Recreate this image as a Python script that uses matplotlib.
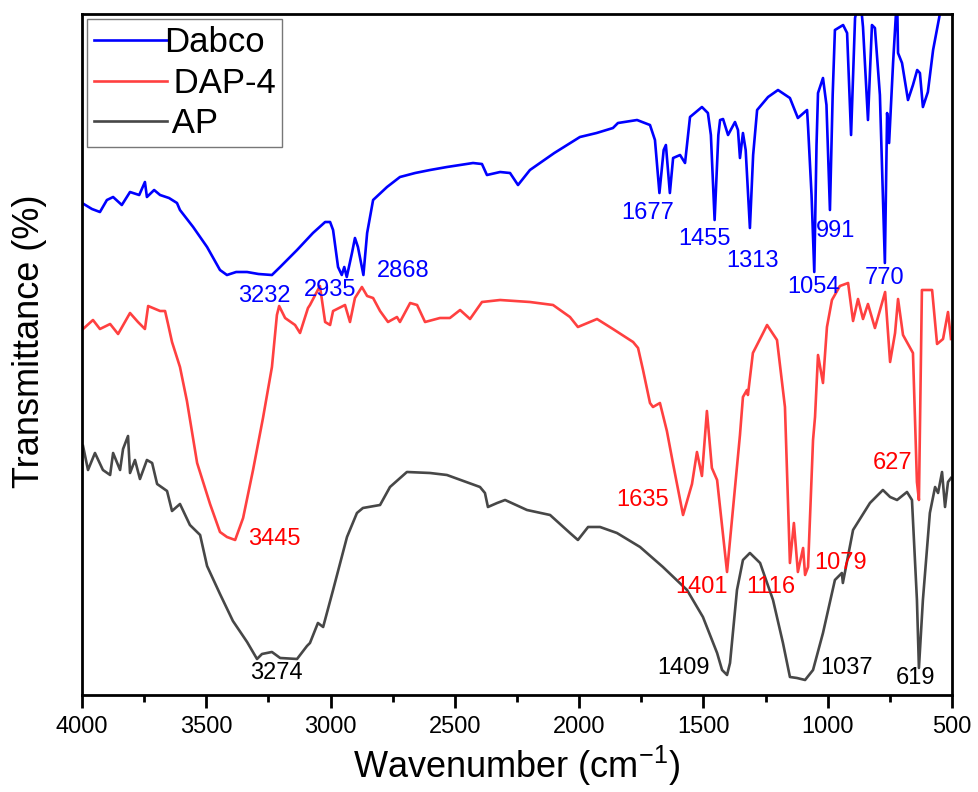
import matplotlib
matplotlib.use('Agg')
from matplotlib import pyplot as plt
from matplotlib.ticker import MultipleLocator

plt.rcParams['font.family'] = ['Liberation Sans', 'DejaVu Sans']
plt.rcParams['mathtext.default'] = 'regular'

# FTIR spectra, transmittance in arbitrary (offset) units
dabco_wn = [4000, 3960, 3928, 3900, 3875, 3840, 3807, 3770, 3747, 3739, 3710, 3686, 3650, 3618,
            3606, 3553, 3497, 3445, 3417, 3380, 3336, 3290, 3236, 3203, 3135, 3071, 3022, 3002,
            2990, 2970, 2955, 2945, 2935, 2914, 2902, 2890, 2868, 2853, 2829, 2773, 2721, 2660,
            2600, 2532, 2427, 2391, 2371, 2318, 2278, 2246, 2198, 2100, 1997, 1930, 1864, 1844,
            1767, 1715, 1695, 1677, 1660, 1651, 1635, 1622, 1594, 1574, 1554, 1506, 1482, 1470,
            1455, 1440, 1433, 1421, 1401, 1373, 1361, 1353, 1341, 1330, 1313, 1300, 1284, 1240,
            1200, 1152, 1120, 1083, 1079, 1065, 1054, 1045, 1039, 1019, 1005, 991, 980, 971,
            938, 922, 906, 890, 870, 858, 838, 822, 810, 790, 770, 761, 753, 737, 721, 717,
            701, 677, 657, 640, 629, 617, 597, 576, 548, 520]
dabco_t = [492, 486, 483, 495, 498, 490, 503, 500, 513, 498, 505, 500, 497, 492,
           485, 468, 448, 425, 420, 423, 423, 421, 420, 428, 445, 462, 473, 473,
           465, 428, 420, 428, 418, 442, 457, 448, 420, 462, 495, 508, 518, 522,
           525, 528, 532, 531, 520, 523, 522, 510, 525, 542, 558, 562, 567, 572,
           575, 570, 555, 502, 545, 550, 502, 537, 540, 532, 578, 588, 582, 560,
           475, 560, 575, 576, 560, 573, 565, 537, 562, 545, 467, 540, 585, 598,
           605, 597, 577, 585, 568, 500, 423, 550, 602, 617, 590, 485, 600, 665,
           670, 662, 560, 677, 700, 668, 575, 670, 667, 600, 432, 582, 552, 632, 700, 642,
           632, 595, 610, 625, 622, 588, 603, 645, 682, 720]

dap4_wn = [3996, 3956, 3928, 3887, 3855, 3807, 3775, 3747, 3734, 3686, 3666, 3654, 3638, 3606,
           3578, 3537, 3485, 3445, 3417, 3384, 3352, 3312, 3272, 3236, 3216, 3207, 3183, 3143,
           3123, 3091, 3083, 3043, 3022, 3002, 2990, 2942, 2922, 2902, 2874, 2853, 2829, 2801,
           2769, 2733, 2721, 2680, 2652, 2620, 2560, 2520, 2479, 2439, 2391, 2318, 2198, 2105,
           2037, 2005, 1928, 1864, 1783, 1763, 1743, 1715, 1703, 1675, 1647, 1622, 1582, 1546,
           1526, 1506, 1486, 1466, 1445, 1405, 1353, 1341, 1325, 1321, 1301, 1260, 1244, 1204,
           1172, 1152, 1136, 1120, 1099, 1091, 1079, 1059, 1051, 1039, 1019, 1003, 983, 951,
           918, 898, 878, 858, 838, 810, 769, 749, 729, 717, 697, 657, 641, 633, 621, 580,
           560, 536, 516, 504]
dap4_t = [366, 375, 366, 371, 361, 382, 373, 366, 389, 384, 384, 371, 353, 328,
          294, 232, 191, 163, 158, 155, 177, 225, 277, 328, 380, 389, 377, 370,
          362, 387, 390, 409, 373, 370, 384, 390, 373, 397, 408, 399, 397, 384,
          373, 378, 373, 392, 390, 373, 377, 377, 385, 376, 393, 395, 393, 390,
          378, 368, 376, 366, 353, 347, 325, 292, 288, 292, 264, 231, 180, 211,
          243, 219, 284, 227, 215, 123, 260, 298, 305, 300, 342, 362, 370, 355,
          288, 132, 172, 123, 147, 120, 128, 255, 278, 340, 312, 368, 395, 409,
          412, 374, 396, 376, 391, 367, 403, 333, 362, 396, 360, 342, 213, 195, 405, 405,
          351, 356, 383, 356]

ap_wn = [3996, 3976, 3948, 3916, 3887, 3875, 3847, 3835, 3815, 3807, 3787, 3767, 3739, 3718,
         3698, 3658, 3638, 3606, 3566, 3525, 3497, 3445, 3393, 3336, 3296, 3276, 3236, 3203,
         3135, 3095, 3083, 3051, 3030, 2990, 2934, 2894, 2870, 2801, 2761, 2693, 2600, 2532,
         2399, 2379, 2367, 2330, 2298, 2210, 2117, 2037, 2005, 1964, 1916, 1848, 1755, 1663,
         1566, 1502, 1445, 1425, 1405, 1393, 1365, 1341, 1313, 1272, 1220, 1180, 1152, 1124,
         1091, 1059, 1019, 971, 943, 939, 898, 830, 778, 749, 721, 681, 661, 641, 633, 617,
         589, 568, 556, 540, 528, 516, 504]
ap_t = [249, 225, 242, 225, 220, 242, 225, 246, 259, 222, 235, 216, 235, 232,
        211, 204, 184, 191, 170, 160, 129, 101, 74, 53, 36, 41, 43, 37,
        36, 49, 52, 72, 68, 105, 158, 182, 187, 190, 208, 223, 222, 220,
        208, 202, 188, 192, 195, 185, 180, 162, 155, 168, 168, 162, 148, 128,
        105, 78, 42, 25, 20, 32, 105, 135, 142, 132, 95, 52, 18, 17,
        15, 25, 62, 115, 122, 112, 165, 192, 205, 198, 195, 203, 195, 95, 27, 95,
        182, 208, 202, 223, 188, 213, 217]

# peak labels: text, wavenumber, position
dabco_peaks = [('3232', 3268, 399), ('2935', 3002, 405), ('2868', 2709, 424),
               ('1677', 1723, 482), ('1455', 1494, 456), ('1313', 1301, 434),
               ('1054', 1059, 408), ('991', 967, 464), ('770', 770, 417)]
dap4_peaks = [('3445', 3228, 156), ('1635', 1743, 195), ('1401', 1506, 108),
              ('1116', 1228, 108), ('1079', 947, 132), ('627', 741, 232)]
ap_peaks = [('3274', 3220, 22), ('1409', 1582, 27), ('1037', 926, 27), ('619', 645, 17)]

fig = plt.figure(figsize=(9.79, 7.92), dpi=100)
ax = fig.add_axes([0.0838, 0.1225, 0.8886, 0.8598])

lw = 1.9
ax.plot(dabco_wn, dabco_t, color='#0000ff', lw=lw, label='Dabco')
ax.plot(dap4_wn, dap4_t, color='#ff4040', lw=lw, label=' DAP-4')
ax.plot(ap_wn, ap_t, color='#474747', lw=lw, label=' AP')

for txt, x, y in dabco_peaks:
    ax.text(x, y, txt, color='#0000ff', fontsize=17, ha='center', va='center')
for txt, x, y in dap4_peaks:
    ax.text(x, y, txt, color='#ff0000', fontsize=17, ha='center', va='center')
for txt, x, y in ap_peaks:
    ax.text(x, y, txt, color='black', fontsize=17, ha='center', va='center')

ax.set_xlim(4000, 500)
ax.set_ylim(0, 681)
ax.xaxis.set_major_locator(MultipleLocator(500))
ax.xaxis.set_minor_locator(MultipleLocator(250))
ax.tick_params(axis='x', which='major', direction='out', length=9, width=2, labelsize=17, pad=6)
ax.tick_params(axis='x', which='minor', direction='out', length=5, width=2)
ax.set_yticks([])
for s in ax.spines.values():
    s.set_linewidth(2)

ax.set_xlabel('Wavenumber (cm$^{-1}$)', fontsize=26, labelpad=4)
ax.set_ylabel('Transmittance (%)', fontsize=26)
ax.yaxis.set_label_coords(-0.04, 0.52)

leg = ax.legend(loc='upper left', fontsize=25, frameon=True, fancybox=False,
                edgecolor='#777777', handlelength=2.1, handletextpad=-0.1,
                borderaxespad=0.15, borderpad=0.2, labelspacing=0.22)
leg.get_frame().set_linewidth(1)
leg.get_frame().set_alpha(1)

fig.savefig('out.png', dpi=100)
